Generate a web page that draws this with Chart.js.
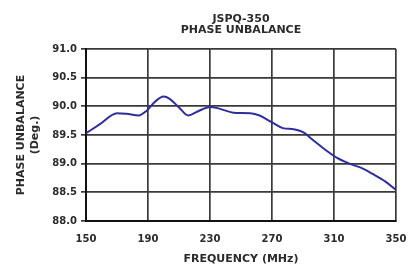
<!DOCTYPE html>
<html>
<head>
<meta charset="utf-8">
<script src="https://cdn.jsdelivr.net/npm/chart.js@4"></script>
<style>
  html, body { margin: 0; padding: 0; background: #fff; }
  #wrap { width: 408px; height: 265px; }
</style>
</head>
<body>
<div id="wrap"><canvas id="phaseChart" width="408" height="265"></canvas></div>
<script>
// values
const freqMHz = [150, 159, 170, 176, 184, 189, 194.5, 200, 204, 210, 216, 222, 230, 236, 245, 256, 262, 270, 277, 284, 290, 297, 305, 312, 320, 329, 335, 343, 350];
const phaseDeg = [89.53, 89.69, 89.88, 89.87, 89.84, 89.92, 90.08, 90.17, 90.13, 89.98, 89.84, 89.91, 89.99, 89.96, 89.89, 89.88, 89.84, 89.72, 89.62, 89.60, 89.55, 89.40, 89.23, 89.10, 89.00, 88.91, 88.82, 88.69, 88.54];
const xTicks = [150, 190, 230, 270, 310, 350];
const yTicks = [88.0, 88.5, 89.0, 89.5, 90.0, 90.5, 91.0];

const points = freqMHz.map((f, i) => ({ x: f, y: phaseDeg[i] }));
const txt = '#2b2b2b';
const tickFont = { family: 'DejaVu Sans', size: 10, weight: 'bold' };
const labelFont = { family: 'DejaVu Sans', size: 11, weight: 'bold', lineHeight: 1.0 };

const ctx = document.getElementById('phaseChart').getContext('2d');

const myChart = new Chart(ctx, {
    type: 'line',
    data: {
        datasets: [{
            data: points,
            borderColor: '#2e2e9e',
            borderWidth: 2,
            pointRadius: 0,
            tension: 0.4,
            cubicInterpolationMode: 'monotone',
            fill: false
        }]
    },
    options: {
        responsive: false,
        animation: false,
        layout: { padding: { left: 0, right: 12, top: 8, bottom: 0 } },
        plugins: {
            legend: { display: false },
            tooltip: { enabled: false },
            title: {
                display: true,
                fullSize: false,
                text: ['JSPQ-350', 'PHASE UNBALANCE'],
                color: txt,
                font: labelFont,
                padding: { top: 6, bottom: 13 }
            }
        },
        scales: {
            x: {
                type: 'linear',
                min: 150,
                max: 350,
                afterBuildTicks: s => { s.ticks = xTicks.map(v => ({ value: v })); },
                afterFit: s => { s.height = 44; s.paddingRight = 0; s.paddingLeft = 0; },
                grid: { color: '#3a3a3a', lineWidth: 1.7, tickLength: 0, drawTicks: false },
                border: { color: '#111', width: 2 },
                ticks: { color: txt, font: tickFont, padding: 12, maxRotation: 0 },
                title: {
                    display: true,
                    text: 'FREQUENCY (MHz)',
                    color: txt,
                    font: labelFont,
                    padding: { top: 14, bottom: 0 }
                }
            },
            y: {
                min: 88,
                max: 91,
                afterBuildTicks: s => { s.ticks = yTicks.map(v => ({ value: v })); },
                afterFit: s => { s.width = 86; },
                grid: { color: '#3a3a3a', lineWidth: 1.7, tickLength: 5 },
                border: { color: '#111', width: 2 },
                ticks: {
                    color: txt,
                    font: tickFont,
                    padding: 4,
                    callback: v => v.toFixed(1)
                },
                title: {
                    display: true,
                    text: ['PHASE UNBALANCE', '(Deg.)'],
                    color: txt,
                    font: Object.assign({}, labelFont, { lineHeight: 1.3 }),
                    padding: { top: 14, bottom: 0 }
                }
            }
        }
    }
});
</script>
</body>
</html>
